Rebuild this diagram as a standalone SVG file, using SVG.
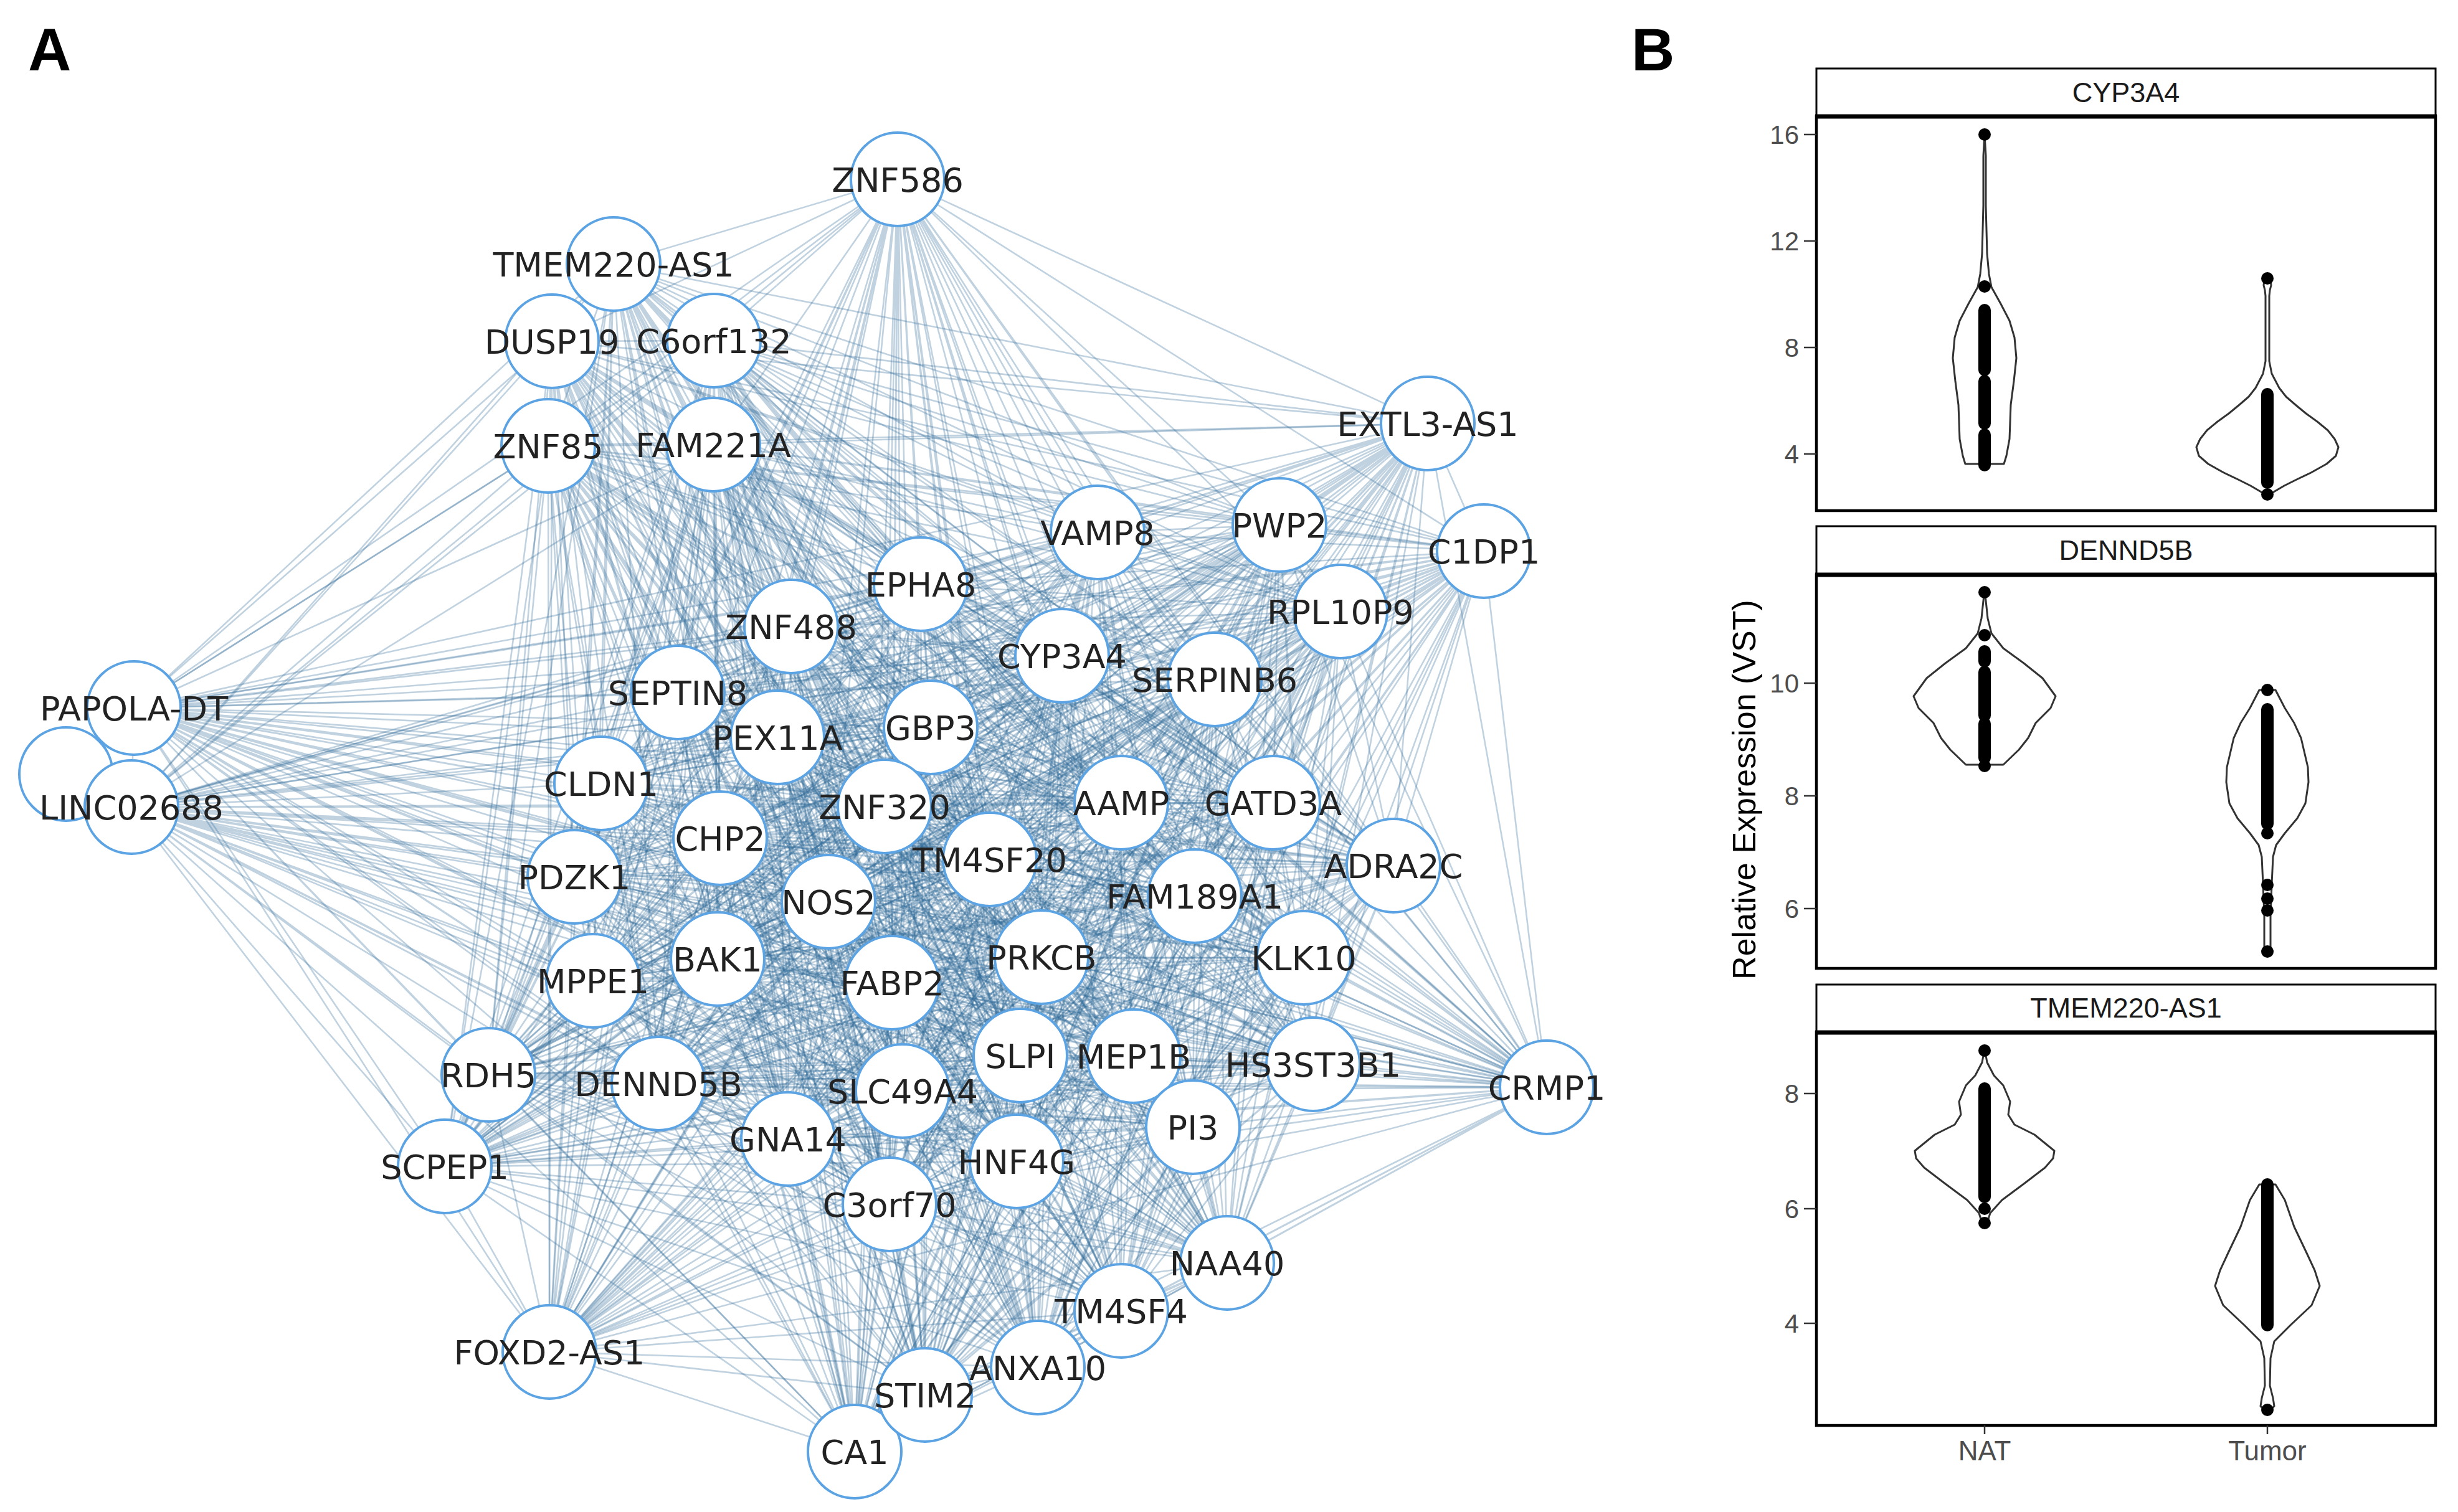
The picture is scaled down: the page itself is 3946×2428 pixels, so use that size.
<svg xmlns="http://www.w3.org/2000/svg" width="3946" height="2428" viewBox="0 0 3946 2428">
<style>
.e{fill:none;stroke:#2f6a98;stroke-opacity:0.3;stroke-width:2.6;stroke-linejoin:round}
.n circle{fill:#fff;stroke:#5ba3e3;stroke-width:4}
.n text{font-family:"DejaVu Sans",sans-serif;font-size:54px;fill:#222;text-anchor:middle}
.pl{font-family:"Liberation Sans",Arial,sans-serif;font-weight:bold;font-size:96px;fill:#000}
.strip{fill:#fff;stroke:#000;stroke-width:3}
.panel{fill:none;stroke:#000;stroke-width:4.5}
.top{stroke:#000;stroke-width:7}
.st{font-family:"Liberation Sans",Arial,sans-serif;font-size:45px;fill:#1a1a1a;text-anchor:middle}
.tk{font-family:"Liberation Sans",Arial,sans-serif;font-size:42px;fill:#4d4d4d;text-anchor:end}
.xl{font-family:"Liberation Sans",Arial,sans-serif;font-size:44px;fill:#4d4d4d;text-anchor:middle}
.yt{font-family:"Liberation Sans",Arial,sans-serif;font-size:52px;fill:#000;text-anchor:middle}
.tm{stroke:#333;stroke-width:2.5}
.vio{fill:none;stroke:#333;stroke-width:3;stroke-linejoin:round}
.dot{fill:#000}
.col{stroke:#000;stroke-width:20;stroke-linecap:round}
</style>
<rect width="3946" height="2428" fill="#fff"/>
<text class="pl" x="45" y="113">A</text>
<text class="pl" x="2619" y="113">B</text>
<g id="connectors">
<path class="e" d="M1441 288L985 424ZL886 548ZL1146 547ZL880 716ZL1145 714ZL2292 680ZL1762 855ZL2054 843ZL2382 885ZL1478 938ZL2152 982ZL1270 1006ZL1705 1053ZL1950 1091ZL215 1137ZL211 1296ZL1088 1112ZL1248 1184ZL1494 1168ZL965 1258ZL1420 1295ZL1800 1289ZL2044 1289ZL1156 1346ZL1589 1380ZL2237 1390ZL922 1408ZL1330 1448ZL1918 1439ZL1152 1540ZL952 1575ZL1432 1578ZL1672 1537ZL2093 1538ZL1638 1695ZL1820 1696ZL784 1726ZL1057 1740ZL2108 1709ZL2483 1746ZL1449 1752ZL1915 1810ZL1265 1829ZL1632 1865ZL714 1873ZL1428 1934ZL1970 2028ZL1800 2105ZL882 2171ZL1666 2196ZL1485 2240ZL1372 2331Z"/>
<path class="e" d="M985 424L886 548ZL1146 547ZL880 716ZL1145 714ZL2292 680ZL1762 855ZL2054 843ZL2382 885ZL1478 938ZL2152 982ZL1270 1006ZL1705 1053ZL1950 1091ZL215 1137ZL211 1296ZL1088 1112ZL1248 1184ZL1494 1168ZL965 1258ZL1420 1295ZL1800 1289ZL2044 1289ZL1156 1346ZL1589 1380ZL2237 1390ZL922 1408ZL1330 1448ZL1918 1439ZL1152 1540ZL952 1575ZL1432 1578ZL1672 1537ZL2093 1538ZL1638 1695ZL1820 1696ZL784 1726ZL1057 1740ZL2108 1709ZL2483 1746ZL1449 1752ZL1915 1810ZL1265 1829ZL1632 1865ZL714 1873ZL1428 1934ZL1970 2028ZL1800 2105ZL882 2171ZL1666 2196ZL1485 2240ZL1372 2331Z"/>
<path class="e" d="M886 548L1146 547ZL880 716ZL1145 714ZL2292 680ZL1762 855ZL2054 843ZL2382 885ZL1478 938ZL2152 982ZL1270 1006ZL1705 1053ZL1950 1091ZL215 1137ZL211 1296ZL1088 1112ZL1248 1184ZL1494 1168ZL965 1258ZL1420 1295ZL1800 1289ZL2044 1289ZL1156 1346ZL1589 1380ZL2237 1390ZL922 1408ZL1330 1448ZL1918 1439ZL1152 1540ZL952 1575ZL1432 1578ZL1672 1537ZL2093 1538ZL1638 1695ZL1820 1696ZL784 1726ZL1057 1740ZL2108 1709ZL2483 1746ZL1449 1752ZL1915 1810ZL1265 1829ZL1632 1865ZL714 1873ZL1428 1934ZL1970 2028ZL1800 2105ZL882 2171ZL1666 2196ZL1485 2240ZL1372 2331Z"/>
<path class="e" d="M1146 547L880 716ZL1145 714ZL2292 680ZL1762 855ZL2054 843ZL2382 885ZL1478 938ZL2152 982ZL1270 1006ZL1705 1053ZL1950 1091ZL215 1137ZL211 1296ZL1088 1112ZL1248 1184ZL1494 1168ZL965 1258ZL1420 1295ZL1800 1289ZL2044 1289ZL1156 1346ZL1589 1380ZL2237 1390ZL922 1408ZL1330 1448ZL1918 1439ZL1152 1540ZL952 1575ZL1432 1578ZL1672 1537ZL2093 1538ZL1638 1695ZL1820 1696ZL784 1726ZL1057 1740ZL2108 1709ZL2483 1746ZL1449 1752ZL1915 1810ZL1265 1829ZL1632 1865ZL714 1873ZL1428 1934ZL1970 2028ZL1800 2105ZL882 2171ZL1666 2196ZL1485 2240ZL1372 2331Z"/>
<path class="e" d="M880 716L1145 714ZL2292 680ZL1762 855ZL2054 843ZL2382 885ZL1478 938ZL2152 982ZL1270 1006ZL1705 1053ZL1950 1091ZL215 1137ZL211 1296ZL1088 1112ZL1248 1184ZL1494 1168ZL965 1258ZL1420 1295ZL1800 1289ZL2044 1289ZL1156 1346ZL1589 1380ZL2237 1390ZL922 1408ZL1330 1448ZL1918 1439ZL1152 1540ZL952 1575ZL1432 1578ZL1672 1537ZL2093 1538ZL1638 1695ZL1820 1696ZL784 1726ZL1057 1740ZL2108 1709ZL2483 1746ZL1449 1752ZL1915 1810ZL1265 1829ZL1632 1865ZL714 1873ZL1428 1934ZL1970 2028ZL1800 2105ZL882 2171ZL1666 2196ZL1485 2240ZL1372 2331Z"/>
<path class="e" d="M1145 714L2292 680ZL1762 855ZL2054 843ZL2382 885ZL1478 938ZL2152 982ZL1270 1006ZL1705 1053ZL1950 1091ZL215 1137ZL211 1296ZL1088 1112ZL1248 1184ZL1494 1168ZL965 1258ZL1420 1295ZL1800 1289ZL2044 1289ZL1156 1346ZL1589 1380ZL2237 1390ZL922 1408ZL1330 1448ZL1918 1439ZL1152 1540ZL952 1575ZL1432 1578ZL1672 1537ZL2093 1538ZL1638 1695ZL1820 1696ZL784 1726ZL1057 1740ZL2108 1709ZL2483 1746ZL1449 1752ZL1915 1810ZL1265 1829ZL1632 1865ZL714 1873ZL1428 1934ZL1970 2028ZL1800 2105ZL882 2171ZL1666 2196ZL1485 2240ZL1372 2331Z"/>
<path class="e" d="M2292 680L1762 855ZL2054 843ZL2382 885ZL1478 938ZL2152 982ZL1270 1006ZL1705 1053ZL1950 1091ZL215 1137ZL211 1296ZL1088 1112ZL1248 1184ZL1494 1168ZL965 1258ZL1420 1295ZL1800 1289ZL2044 1289ZL1156 1346ZL1589 1380ZL2237 1390ZL922 1408ZL1330 1448ZL1918 1439ZL1152 1540ZL952 1575ZL1432 1578ZL1672 1537ZL2093 1538ZL1638 1695ZL1820 1696ZL784 1726ZL1057 1740ZL2108 1709ZL2483 1746ZL1449 1752ZL1915 1810ZL1265 1829ZL1632 1865ZL714 1873ZL1428 1934ZL1970 2028ZL1800 2105ZL882 2171ZL1666 2196ZL1485 2240ZL1372 2331Z"/>
<path class="e" d="M1762 855L2054 843ZL2382 885ZL1478 938ZL2152 982ZL1270 1006ZL1705 1053ZL1950 1091ZL215 1137ZL211 1296ZL1088 1112ZL1248 1184ZL1494 1168ZL965 1258ZL1420 1295ZL1800 1289ZL2044 1289ZL1156 1346ZL1589 1380ZL2237 1390ZL922 1408ZL1330 1448ZL1918 1439ZL1152 1540ZL952 1575ZL1432 1578ZL1672 1537ZL2093 1538ZL1638 1695ZL1820 1696ZL784 1726ZL1057 1740ZL2108 1709ZL2483 1746ZL1449 1752ZL1915 1810ZL1265 1829ZL1632 1865ZL714 1873ZL1428 1934ZL1970 2028ZL1800 2105ZL882 2171ZL1666 2196ZL1485 2240ZL1372 2331Z"/>
<path class="e" d="M2054 843L2382 885ZL1478 938ZL2152 982ZL1270 1006ZL1705 1053ZL1950 1091ZL215 1137ZL211 1296ZL1088 1112ZL1248 1184ZL1494 1168ZL965 1258ZL1420 1295ZL1800 1289ZL2044 1289ZL1156 1346ZL1589 1380ZL2237 1390ZL922 1408ZL1330 1448ZL1918 1439ZL1152 1540ZL952 1575ZL1432 1578ZL1672 1537ZL2093 1538ZL1638 1695ZL1820 1696ZL784 1726ZL1057 1740ZL2108 1709ZL2483 1746ZL1449 1752ZL1915 1810ZL1265 1829ZL1632 1865ZL714 1873ZL1428 1934ZL1970 2028ZL1800 2105ZL882 2171ZL1666 2196ZL1485 2240ZL1372 2331Z"/>
<path class="e" d="M2382 885L1478 938ZL2152 982ZL1270 1006ZL1705 1053ZL1950 1091ZL215 1137ZL211 1296ZL1088 1112ZL1248 1184ZL1494 1168ZL965 1258ZL1420 1295ZL1800 1289ZL2044 1289ZL1156 1346ZL1589 1380ZL2237 1390ZL922 1408ZL1330 1448ZL1918 1439ZL1152 1540ZL952 1575ZL1432 1578ZL1672 1537ZL2093 1538ZL1638 1695ZL1820 1696ZL784 1726ZL1057 1740ZL2108 1709ZL2483 1746ZL1449 1752ZL1915 1810ZL1265 1829ZL1632 1865ZL714 1873ZL1428 1934ZL1970 2028ZL1800 2105ZL882 2171ZL1666 2196ZL1485 2240ZL1372 2331Z"/>
<path class="e" d="M1478 938L2152 982ZL1270 1006ZL1705 1053ZL1950 1091ZL215 1137ZL211 1296ZL1088 1112ZL1248 1184ZL1494 1168ZL965 1258ZL1420 1295ZL1800 1289ZL2044 1289ZL1156 1346ZL1589 1380ZL2237 1390ZL922 1408ZL1330 1448ZL1918 1439ZL1152 1540ZL952 1575ZL1432 1578ZL1672 1537ZL2093 1538ZL1638 1695ZL1820 1696ZL784 1726ZL1057 1740ZL2108 1709ZL2483 1746ZL1449 1752ZL1915 1810ZL1265 1829ZL1632 1865ZL714 1873ZL1428 1934ZL1970 2028ZL1800 2105ZL882 2171ZL1666 2196ZL1485 2240ZL1372 2331Z"/>
<path class="e" d="M2152 982L1270 1006ZL1705 1053ZL1950 1091ZL215 1137ZL211 1296ZL1088 1112ZL1248 1184ZL1494 1168ZL965 1258ZL1420 1295ZL1800 1289ZL2044 1289ZL1156 1346ZL1589 1380ZL2237 1390ZL922 1408ZL1330 1448ZL1918 1439ZL1152 1540ZL952 1575ZL1432 1578ZL1672 1537ZL2093 1538ZL1638 1695ZL1820 1696ZL784 1726ZL1057 1740ZL2108 1709ZL2483 1746ZL1449 1752ZL1915 1810ZL1265 1829ZL1632 1865ZL714 1873ZL1428 1934ZL1970 2028ZL1800 2105ZL882 2171ZL1666 2196ZL1485 2240ZL1372 2331Z"/>
<path class="e" d="M1270 1006L1705 1053ZL1950 1091ZL215 1137ZL211 1296ZL1088 1112ZL1248 1184ZL1494 1168ZL965 1258ZL1420 1295ZL1800 1289ZL2044 1289ZL1156 1346ZL1589 1380ZL2237 1390ZL922 1408ZL1330 1448ZL1918 1439ZL1152 1540ZL952 1575ZL1432 1578ZL1672 1537ZL2093 1538ZL1638 1695ZL1820 1696ZL784 1726ZL1057 1740ZL2108 1709ZL2483 1746ZL1449 1752ZL1915 1810ZL1265 1829ZL1632 1865ZL714 1873ZL1428 1934ZL1970 2028ZL1800 2105ZL882 2171ZL1666 2196ZL1485 2240ZL1372 2331Z"/>
<path class="e" d="M1705 1053L1950 1091ZL215 1137ZL211 1296ZL1088 1112ZL1248 1184ZL1494 1168ZL965 1258ZL1420 1295ZL1800 1289ZL2044 1289ZL1156 1346ZL1589 1380ZL2237 1390ZL922 1408ZL1330 1448ZL1918 1439ZL1152 1540ZL952 1575ZL1432 1578ZL1672 1537ZL2093 1538ZL1638 1695ZL1820 1696ZL784 1726ZL1057 1740ZL2108 1709ZL2483 1746ZL1449 1752ZL1915 1810ZL1265 1829ZL1632 1865ZL714 1873ZL1428 1934ZL1970 2028ZL1800 2105ZL882 2171ZL1666 2196ZL1485 2240ZL1372 2331Z"/>
<path class="e" d="M1950 1091L215 1137ZL211 1296ZL1088 1112ZL1248 1184ZL1494 1168ZL965 1258ZL1420 1295ZL1800 1289ZL2044 1289ZL1156 1346ZL1589 1380ZL2237 1390ZL922 1408ZL1330 1448ZL1918 1439ZL1152 1540ZL952 1575ZL1432 1578ZL1672 1537ZL2093 1538ZL1638 1695ZL1820 1696ZL784 1726ZL1057 1740ZL2108 1709ZL2483 1746ZL1449 1752ZL1915 1810ZL1265 1829ZL1632 1865ZL714 1873ZL1428 1934ZL1970 2028ZL1800 2105ZL882 2171ZL1666 2196ZL1485 2240ZL1372 2331Z"/>
<path class="e" d="M215 1137L211 1296ZL1088 1112ZL1248 1184ZL1494 1168ZL965 1258ZL1420 1295ZL1800 1289ZL2044 1289ZL1156 1346ZL1589 1380ZL2237 1390ZL922 1408ZL1330 1448ZL1918 1439ZL1152 1540ZL952 1575ZL1432 1578ZL1672 1537ZL2093 1538ZL1638 1695ZL1820 1696ZL784 1726ZL1057 1740ZL2108 1709ZL2483 1746ZL1449 1752ZL1915 1810ZL1265 1829ZL1632 1865ZL714 1873ZL1428 1934ZL1970 2028ZL1800 2105ZL882 2171ZL1666 2196ZL1485 2240ZL1372 2331Z"/>
<path class="e" d="M211 1296L1088 1112ZL1248 1184ZL1494 1168ZL965 1258ZL1420 1295ZL1800 1289ZL2044 1289ZL1156 1346ZL1589 1380ZL2237 1390ZL922 1408ZL1330 1448ZL1918 1439ZL1152 1540ZL952 1575ZL1432 1578ZL1672 1537ZL2093 1538ZL1638 1695ZL1820 1696ZL784 1726ZL1057 1740ZL2108 1709ZL2483 1746ZL1449 1752ZL1915 1810ZL1265 1829ZL1632 1865ZL714 1873ZL1428 1934ZL1970 2028ZL1800 2105ZL882 2171ZL1666 2196ZL1485 2240ZL1372 2331Z"/>
<path class="e" d="M1088 1112L1248 1184ZL1494 1168ZL965 1258ZL1420 1295ZL1800 1289ZL2044 1289ZL1156 1346ZL1589 1380ZL2237 1390ZL922 1408ZL1330 1448ZL1918 1439ZL1152 1540ZL952 1575ZL1432 1578ZL1672 1537ZL2093 1538ZL1638 1695ZL1820 1696ZL784 1726ZL1057 1740ZL2108 1709ZL2483 1746ZL1449 1752ZL1915 1810ZL1265 1829ZL1632 1865ZL714 1873ZL1428 1934ZL1970 2028ZL1800 2105ZL882 2171ZL1666 2196ZL1485 2240ZL1372 2331Z"/>
<path class="e" d="M1248 1184L1494 1168ZL965 1258ZL1420 1295ZL1800 1289ZL2044 1289ZL1156 1346ZL1589 1380ZL2237 1390ZL922 1408ZL1330 1448ZL1918 1439ZL1152 1540ZL952 1575ZL1432 1578ZL1672 1537ZL2093 1538ZL1638 1695ZL1820 1696ZL784 1726ZL1057 1740ZL2108 1709ZL2483 1746ZL1449 1752ZL1915 1810ZL1265 1829ZL1632 1865ZL714 1873ZL1428 1934ZL1970 2028ZL1800 2105ZL882 2171ZL1666 2196ZL1485 2240ZL1372 2331Z"/>
<path class="e" d="M1494 1168L965 1258ZL1420 1295ZL1800 1289ZL2044 1289ZL1156 1346ZL1589 1380ZL2237 1390ZL922 1408ZL1330 1448ZL1918 1439ZL1152 1540ZL952 1575ZL1432 1578ZL1672 1537ZL2093 1538ZL1638 1695ZL1820 1696ZL784 1726ZL1057 1740ZL2108 1709ZL2483 1746ZL1449 1752ZL1915 1810ZL1265 1829ZL1632 1865ZL714 1873ZL1428 1934ZL1970 2028ZL1800 2105ZL882 2171ZL1666 2196ZL1485 2240ZL1372 2331Z"/>
<path class="e" d="M965 1258L1420 1295ZL1800 1289ZL2044 1289ZL1156 1346ZL1589 1380ZL2237 1390ZL922 1408ZL1330 1448ZL1918 1439ZL1152 1540ZL952 1575ZL1432 1578ZL1672 1537ZL2093 1538ZL1638 1695ZL1820 1696ZL784 1726ZL1057 1740ZL2108 1709ZL2483 1746ZL1449 1752ZL1915 1810ZL1265 1829ZL1632 1865ZL714 1873ZL1428 1934ZL1970 2028ZL1800 2105ZL882 2171ZL1666 2196ZL1485 2240ZL1372 2331Z"/>
<path class="e" d="M1420 1295L1800 1289ZL2044 1289ZL1156 1346ZL1589 1380ZL2237 1390ZL922 1408ZL1330 1448ZL1918 1439ZL1152 1540ZL952 1575ZL1432 1578ZL1672 1537ZL2093 1538ZL1638 1695ZL1820 1696ZL784 1726ZL1057 1740ZL2108 1709ZL2483 1746ZL1449 1752ZL1915 1810ZL1265 1829ZL1632 1865ZL714 1873ZL1428 1934ZL1970 2028ZL1800 2105ZL882 2171ZL1666 2196ZL1485 2240ZL1372 2331Z"/>
<path class="e" d="M1800 1289L2044 1289ZL1156 1346ZL1589 1380ZL2237 1390ZL922 1408ZL1330 1448ZL1918 1439ZL1152 1540ZL952 1575ZL1432 1578ZL1672 1537ZL2093 1538ZL1638 1695ZL1820 1696ZL784 1726ZL1057 1740ZL2108 1709ZL2483 1746ZL1449 1752ZL1915 1810ZL1265 1829ZL1632 1865ZL714 1873ZL1428 1934ZL1970 2028ZL1800 2105ZL882 2171ZL1666 2196ZL1485 2240ZL1372 2331Z"/>
<path class="e" d="M2044 1289L1156 1346ZL1589 1380ZL2237 1390ZL922 1408ZL1330 1448ZL1918 1439ZL1152 1540ZL952 1575ZL1432 1578ZL1672 1537ZL2093 1538ZL1638 1695ZL1820 1696ZL784 1726ZL1057 1740ZL2108 1709ZL2483 1746ZL1449 1752ZL1915 1810ZL1265 1829ZL1632 1865ZL714 1873ZL1428 1934ZL1970 2028ZL1800 2105ZL882 2171ZL1666 2196ZL1485 2240ZL1372 2331Z"/>
<path class="e" d="M1156 1346L1589 1380ZL2237 1390ZL922 1408ZL1330 1448ZL1918 1439ZL1152 1540ZL952 1575ZL1432 1578ZL1672 1537ZL2093 1538ZL1638 1695ZL1820 1696ZL784 1726ZL1057 1740ZL2108 1709ZL2483 1746ZL1449 1752ZL1915 1810ZL1265 1829ZL1632 1865ZL714 1873ZL1428 1934ZL1970 2028ZL1800 2105ZL882 2171ZL1666 2196ZL1485 2240ZL1372 2331Z"/>
<path class="e" d="M1589 1380L2237 1390ZL922 1408ZL1330 1448ZL1918 1439ZL1152 1540ZL952 1575ZL1432 1578ZL1672 1537ZL2093 1538ZL1638 1695ZL1820 1696ZL784 1726ZL1057 1740ZL2108 1709ZL2483 1746ZL1449 1752ZL1915 1810ZL1265 1829ZL1632 1865ZL714 1873ZL1428 1934ZL1970 2028ZL1800 2105ZL882 2171ZL1666 2196ZL1485 2240ZL1372 2331Z"/>
<path class="e" d="M2237 1390L922 1408ZL1330 1448ZL1918 1439ZL1152 1540ZL952 1575ZL1432 1578ZL1672 1537ZL2093 1538ZL1638 1695ZL1820 1696ZL784 1726ZL1057 1740ZL2108 1709ZL2483 1746ZL1449 1752ZL1915 1810ZL1265 1829ZL1632 1865ZL714 1873ZL1428 1934ZL1970 2028ZL1800 2105ZL882 2171ZL1666 2196ZL1485 2240ZL1372 2331Z"/>
<path class="e" d="M922 1408L1330 1448ZL1918 1439ZL1152 1540ZL952 1575ZL1432 1578ZL1672 1537ZL2093 1538ZL1638 1695ZL1820 1696ZL784 1726ZL1057 1740ZL2108 1709ZL2483 1746ZL1449 1752ZL1915 1810ZL1265 1829ZL1632 1865ZL714 1873ZL1428 1934ZL1970 2028ZL1800 2105ZL882 2171ZL1666 2196ZL1485 2240ZL1372 2331Z"/>
<path class="e" d="M1330 1448L1918 1439ZL1152 1540ZL952 1575ZL1432 1578ZL1672 1537ZL2093 1538ZL1638 1695ZL1820 1696ZL784 1726ZL1057 1740ZL2108 1709ZL2483 1746ZL1449 1752ZL1915 1810ZL1265 1829ZL1632 1865ZL714 1873ZL1428 1934ZL1970 2028ZL1800 2105ZL882 2171ZL1666 2196ZL1485 2240ZL1372 2331Z"/>
<path class="e" d="M1918 1439L1152 1540ZL952 1575ZL1432 1578ZL1672 1537ZL2093 1538ZL1638 1695ZL1820 1696ZL784 1726ZL1057 1740ZL2108 1709ZL2483 1746ZL1449 1752ZL1915 1810ZL1265 1829ZL1632 1865ZL714 1873ZL1428 1934ZL1970 2028ZL1800 2105ZL882 2171ZL1666 2196ZL1485 2240ZL1372 2331Z"/>
<path class="e" d="M1152 1540L952 1575ZL1432 1578ZL1672 1537ZL2093 1538ZL1638 1695ZL1820 1696ZL784 1726ZL1057 1740ZL2108 1709ZL2483 1746ZL1449 1752ZL1915 1810ZL1265 1829ZL1632 1865ZL714 1873ZL1428 1934ZL1970 2028ZL1800 2105ZL882 2171ZL1666 2196ZL1485 2240ZL1372 2331Z"/>
<path class="e" d="M952 1575L1432 1578ZL1672 1537ZL2093 1538ZL1638 1695ZL1820 1696ZL784 1726ZL1057 1740ZL2108 1709ZL2483 1746ZL1449 1752ZL1915 1810ZL1265 1829ZL1632 1865ZL714 1873ZL1428 1934ZL1970 2028ZL1800 2105ZL882 2171ZL1666 2196ZL1485 2240ZL1372 2331Z"/>
<path class="e" d="M1432 1578L1672 1537ZL2093 1538ZL1638 1695ZL1820 1696ZL784 1726ZL1057 1740ZL2108 1709ZL2483 1746ZL1449 1752ZL1915 1810ZL1265 1829ZL1632 1865ZL714 1873ZL1428 1934ZL1970 2028ZL1800 2105ZL882 2171ZL1666 2196ZL1485 2240ZL1372 2331Z"/>
<path class="e" d="M1672 1537L2093 1538ZL1638 1695ZL1820 1696ZL784 1726ZL1057 1740ZL2108 1709ZL2483 1746ZL1449 1752ZL1915 1810ZL1265 1829ZL1632 1865ZL714 1873ZL1428 1934ZL1970 2028ZL1800 2105ZL882 2171ZL1666 2196ZL1485 2240ZL1372 2331Z"/>
<path class="e" d="M2093 1538L1638 1695ZL1820 1696ZL784 1726ZL1057 1740ZL2108 1709ZL2483 1746ZL1449 1752ZL1915 1810ZL1265 1829ZL1632 1865ZL714 1873ZL1428 1934ZL1970 2028ZL1800 2105ZL882 2171ZL1666 2196ZL1485 2240ZL1372 2331Z"/>
<path class="e" d="M1638 1695L1820 1696ZL784 1726ZL1057 1740ZL2108 1709ZL2483 1746ZL1449 1752ZL1915 1810ZL1265 1829ZL1632 1865ZL714 1873ZL1428 1934ZL1970 2028ZL1800 2105ZL882 2171ZL1666 2196ZL1485 2240ZL1372 2331Z"/>
<path class="e" d="M1820 1696L784 1726ZL1057 1740ZL2108 1709ZL2483 1746ZL1449 1752ZL1915 1810ZL1265 1829ZL1632 1865ZL714 1873ZL1428 1934ZL1970 2028ZL1800 2105ZL882 2171ZL1666 2196ZL1485 2240ZL1372 2331Z"/>
<path class="e" d="M784 1726L1057 1740ZL2108 1709ZL2483 1746ZL1449 1752ZL1915 1810ZL1265 1829ZL1632 1865ZL714 1873ZL1428 1934ZL1970 2028ZL1800 2105ZL882 2171ZL1666 2196ZL1485 2240ZL1372 2331Z"/>
<path class="e" d="M1057 1740L2108 1709ZL2483 1746ZL1449 1752ZL1915 1810ZL1265 1829ZL1632 1865ZL714 1873ZL1428 1934ZL1970 2028ZL1800 2105ZL882 2171ZL1666 2196ZL1485 2240ZL1372 2331Z"/>
<path class="e" d="M2108 1709L2483 1746ZL1449 1752ZL1915 1810ZL1265 1829ZL1632 1865ZL714 1873ZL1428 1934ZL1970 2028ZL1800 2105ZL882 2171ZL1666 2196ZL1485 2240ZL1372 2331Z"/>
<path class="e" d="M2483 1746L1449 1752ZL1915 1810ZL1265 1829ZL1632 1865ZL714 1873ZL1428 1934ZL1970 2028ZL1800 2105ZL882 2171ZL1666 2196ZL1485 2240ZL1372 2331Z"/>
<path class="e" d="M1449 1752L1915 1810ZL1265 1829ZL1632 1865ZL714 1873ZL1428 1934ZL1970 2028ZL1800 2105ZL882 2171ZL1666 2196ZL1485 2240ZL1372 2331Z"/>
<path class="e" d="M1915 1810L1265 1829ZL1632 1865ZL714 1873ZL1428 1934ZL1970 2028ZL1800 2105ZL882 2171ZL1666 2196ZL1485 2240ZL1372 2331Z"/>
<path class="e" d="M1265 1829L1632 1865ZL714 1873ZL1428 1934ZL1970 2028ZL1800 2105ZL882 2171ZL1666 2196ZL1485 2240ZL1372 2331Z"/>
<path class="e" d="M1632 1865L714 1873ZL1428 1934ZL1970 2028ZL1800 2105ZL882 2171ZL1666 2196ZL1485 2240ZL1372 2331Z"/>
<path class="e" d="M714 1873L1428 1934ZL1970 2028ZL1800 2105ZL882 2171ZL1666 2196ZL1485 2240ZL1372 2331Z"/>
<path class="e" d="M1428 1934L1970 2028ZL1800 2105ZL882 2171ZL1666 2196ZL1485 2240ZL1372 2331Z"/>
<path class="e" d="M1970 2028L1800 2105ZL882 2171ZL1666 2196ZL1485 2240ZL1372 2331Z"/>
<path class="e" d="M1800 2105L882 2171ZL1666 2196ZL1485 2240ZL1372 2331Z"/>
<path class="e" d="M882 2171L1666 2196ZL1485 2240ZL1372 2331Z"/>
<path class="e" d="M1666 2196L1485 2240ZL1372 2331Z"/>
<path class="e" d="M1485 2240L1372 2331Z"/>
</g>
<g id="nodes">
<g class="n" id="node-unlabeled"><circle cx="106" cy="1243" r="75"/></g>
<g class="n" id="node-ZNF586"><circle cx="1441" cy="288" r="75"/><text x="1441" y="308">ZNF586</text></g>
<g class="n" id="node-TMEM220-AS1"><circle cx="985" cy="424" r="75"/><text x="985" y="444">TMEM220-AS1</text></g>
<g class="n" id="node-DUSP19"><circle cx="886" cy="548" r="75"/><text x="886" y="568">DUSP19</text></g>
<g class="n" id="node-C6orf132"><circle cx="1146" cy="547" r="75"/><text x="1146" y="567">C6orf132</text></g>
<g class="n" id="node-ZNF85"><circle cx="880" cy="716" r="75"/><text x="880" y="736">ZNF85</text></g>
<g class="n" id="node-FAM221A"><circle cx="1145" cy="714" r="75"/><text x="1145" y="734">FAM221A</text></g>
<g class="n" id="node-EXTL3-AS1"><circle cx="2292" cy="680" r="75"/><text x="2292" y="700">EXTL3-AS1</text></g>
<g class="n" id="node-VAMP8"><circle cx="1762" cy="855" r="75"/><text x="1762" y="875">VAMP8</text></g>
<g class="n" id="node-PWP2"><circle cx="2054" cy="843" r="75"/><text x="2054" y="863">PWP2</text></g>
<g class="n" id="node-C1DP1"><circle cx="2382" cy="885" r="75"/><text x="2382" y="905">C1DP1</text></g>
<g class="n" id="node-EPHA8"><circle cx="1478" cy="938" r="75"/><text x="1478" y="958">EPHA8</text></g>
<g class="n" id="node-RPL10P9"><circle cx="2152" cy="982" r="75"/><text x="2152" y="1002">RPL10P9</text></g>
<g class="n" id="node-ZNF488"><circle cx="1270" cy="1006" r="75"/><text x="1270" y="1026">ZNF488</text></g>
<g class="n" id="node-CYP3A4"><circle cx="1705" cy="1053" r="75"/><text x="1705" y="1073">CYP3A4</text></g>
<g class="n" id="node-SERPINB6"><circle cx="1950" cy="1091" r="75"/><text x="1950" y="1111">SERPINB6</text></g>
<g class="n" id="node-PAPOLA-DT"><circle cx="215" cy="1137" r="75"/><text x="215" y="1157">PAPOLA-DT</text></g>
<g class="n" id="node-LINC02688"><circle cx="211" cy="1296" r="75"/><text x="211" y="1316">LINC02688</text></g>
<g class="n" id="node-PEX11A"><circle cx="1248" cy="1184" r="75"/><text x="1248" y="1204">PEX11A</text></g>
<g class="n" id="node-SEPTIN8"><circle cx="1088" cy="1112" r="75"/><text x="1088" y="1132">SEPTIN8</text></g>
<g class="n" id="node-GBP3"><circle cx="1494" cy="1168" r="75"/><text x="1494" y="1188">GBP3</text></g>
<g class="n" id="node-CLDN1"><circle cx="965" cy="1258" r="75"/><text x="965" y="1278">CLDN1</text></g>
<g class="n" id="node-ZNF320"><circle cx="1420" cy="1295" r="75"/><text x="1420" y="1315">ZNF320</text></g>
<g class="n" id="node-AAMP"><circle cx="1800" cy="1289" r="75"/><text x="1800" y="1309">AAMP</text></g>
<g class="n" id="node-GATD3A"><circle cx="2044" cy="1289" r="75"/><text x="2044" y="1309">GATD3A</text></g>
<g class="n" id="node-CHP2"><circle cx="1156" cy="1346" r="75"/><text x="1156" y="1366">CHP2</text></g>
<g class="n" id="node-TM4SF20"><circle cx="1589" cy="1380" r="75"/><text x="1589" y="1400">TM4SF20</text></g>
<g class="n" id="node-ADRA2C"><circle cx="2237" cy="1390" r="75"/><text x="2237" y="1410">ADRA2C</text></g>
<g class="n" id="node-PDZK1"><circle cx="922" cy="1408" r="75"/><text x="922" y="1428">PDZK1</text></g>
<g class="n" id="node-NOS2"><circle cx="1330" cy="1448" r="75"/><text x="1330" y="1468">NOS2</text></g>
<g class="n" id="node-FAM189A1"><circle cx="1918" cy="1439" r="75"/><text x="1918" y="1459">FAM189A1</text></g>
<g class="n" id="node-BAK1"><circle cx="1152" cy="1540" r="75"/><text x="1152" y="1560">BAK1</text></g>
<g class="n" id="node-MPPE1"><circle cx="952" cy="1575" r="75"/><text x="952" y="1595">MPPE1</text></g>
<g class="n" id="node-FABP2"><circle cx="1432" cy="1578" r="75"/><text x="1432" y="1598">FABP2</text></g>
<g class="n" id="node-PRKCB"><circle cx="1672" cy="1537" r="75"/><text x="1672" y="1557">PRKCB</text></g>
<g class="n" id="node-KLK10"><circle cx="2093" cy="1538" r="75"/><text x="2093" y="1558">KLK10</text></g>
<g class="n" id="node-SLPI"><circle cx="1638" cy="1695" r="75"/><text x="1638" y="1715">SLPI</text></g>
<g class="n" id="node-MEP1B"><circle cx="1820" cy="1696" r="75"/><text x="1820" y="1716">MEP1B</text></g>
<g class="n" id="node-RDH5"><circle cx="784" cy="1726" r="75"/><text x="784" y="1746">RDH5</text></g>
<g class="n" id="node-DENND5B"><circle cx="1057" cy="1740" r="75"/><text x="1057" y="1760">DENND5B</text></g>
<g class="n" id="node-HS3ST3B1"><circle cx="2108" cy="1709" r="75"/><text x="2108" y="1729">HS3ST3B1</text></g>
<g class="n" id="node-CRMP1"><circle cx="2483" cy="1746" r="75"/><text x="2483" y="1766">CRMP1</text></g>
<g class="n" id="node-GNA14"><circle cx="1265" cy="1829" r="75"/><text x="1265" y="1849">GNA14</text></g>
<g class="n" id="node-SLC49A4"><circle cx="1449" cy="1752" r="75"/><text x="1449" y="1772">SLC49A4</text></g>
<g class="n" id="node-PI3"><circle cx="1915" cy="1810" r="75"/><text x="1915" y="1830">PI3</text></g>
<g class="n" id="node-HNF4G"><circle cx="1632" cy="1865" r="75"/><text x="1632" y="1885">HNF4G</text></g>
<g class="n" id="node-SCPEP1"><circle cx="714" cy="1873" r="75"/><text x="714" y="1893">SCPEP1</text></g>
<g class="n" id="node-C3orf70"><circle cx="1428" cy="1934" r="75"/><text x="1428" y="1954">C3orf70</text></g>
<g class="n" id="node-NAA40"><circle cx="1970" cy="2028" r="75"/><text x="1970" y="2048">NAA40</text></g>
<g class="n" id="node-TM4SF4"><circle cx="1800" cy="2105" r="75"/><text x="1800" y="2125">TM4SF4</text></g>
<g class="n" id="node-FOXD2-AS1"><circle cx="882" cy="2171" r="75"/><text x="882" y="2191">FOXD2-AS1</text></g>
<g class="n" id="node-CA1"><circle cx="1372" cy="2331" r="75"/><text x="1372" y="2351">CA1</text></g>
<g class="n" id="node-STIM2"><circle cx="1485" cy="2240" r="75"/><text x="1485" y="2260">STIM2</text></g>
<g class="n" id="node-ANXA10"><circle cx="1666" cy="2196" r="75"/><text x="1666" y="2216">ANXA10</text></g>
</g>
<g id="panel-B">
<text class="yt" transform="translate(2818 1268) rotate(-90)">Relative Expression (VST)</text>
<g id="facet-CYP3A4">
<rect class="strip" x="2916" y="110" width="994" height="77"/>
<text class="st" x="3413" y="164">CYP3A4</text>
<rect class="panel" x="2916" y="187" width="994" height="633"/>
<line class="top" x1="2914" y1="187" x2="3912" y2="187"/>
<line class="tm" x1="2896" y1="216" x2="2916" y2="216"/><line class="tm" x1="2896" y1="387" x2="2916" y2="387"/><line class="tm" x1="2896" y1="558" x2="2916" y2="558"/><line class="tm" x1="2896" y1="729" x2="2916" y2="729"/>
<text class="tk" x="2888" y="231">16</text><text class="tk" x="2888" y="402">12</text><text class="tk" x="2888" y="573">8</text><text class="tk" x="2888" y="744">4</text>
<path class="vio" d="M3186 216L3188 250L3188 330L3190 407L3193 440L3197 461L3212 488L3226 515L3234 542L3237 575L3233 612L3228 650L3226 705L3221 732L3217 745L3155 745L3151 732L3146 705L3144 650L3139 612L3135 575L3138 542L3146 515L3160 488L3175 461L3179 440L3182 407L3184 330L3184 250Z"/>
<path class="vio" d="M3640 443L3645 450L3646 458L3644 466L3643 475L3643 580L3647 600L3659 623L3670 637L3685 650L3702 664L3720 677L3737 691L3748 705L3754 718L3750 732L3735 745L3710 759L3687 770L3667 780L3650 790L3640 797L3630 790L3613 780L3593 770L3570 759L3545 745L3530 732L3526 718L3532 705L3543 691L3560 677L3578 664L3595 650L3610 637L3621 623L3633 600L3637 580L3637 475L3636 466L3634 458L3635 450Z"/>
<circle class="dot" cx="3186" cy="216" r="10"/><circle class="dot" cx="3186" cy="460" r="10"/>
<line class="col" x1="3186" y1="498" x2="3186" y2="594"/><line class="col" x1="3186" y1="612" x2="3186" y2="680"/><line class="col" x1="3186" y1="698" x2="3186" y2="747"/>
<circle class="dot" cx="3640" cy="447" r="10"/>
<line class="col" x1="3640" y1="633" x2="3640" y2="775"/>
<circle class="dot" cx="3640" cy="794" r="10"/>
</g>
<g id="facet-DENND5B">
<rect class="strip" x="2916" y="845" width="994" height="78"/>
<text class="st" x="3413" y="899">DENND5B</text>
<rect class="panel" x="2916" y="923" width="994" height="632"/>
<line class="top" x1="2914" y1="923" x2="3912" y2="923"/>
<line class="tm" x1="2896" y1="1097" x2="2916" y2="1097"/><line class="tm" x1="2896" y1="1278" x2="2916" y2="1278"/><line class="tm" x1="2896" y1="1459" x2="2916" y2="1459"/>
<text class="tk" x="2888" y="1112">10</text><text class="tk" x="2888" y="1293">8</text><text class="tk" x="2888" y="1474">6</text>
<path class="vio" d="M3186 946L3191 993L3197 1017L3216 1041L3249 1065L3279 1089L3300 1118L3292 1137L3268 1161L3256 1185L3241 1204L3216 1228L3156 1228L3131 1204L3116 1185L3104 1161L3080 1137L3072 1118L3093 1089L3123 1065L3156 1041L3175 1017L3181 993Z"/>
<path class="vio" d="M3627 1108L3653 1108L3668 1137L3683 1161L3694 1185L3705 1232L3706 1256L3701 1290L3688 1314L3668 1338L3654 1357L3649 1376L3647 1420L3645 1471L3645 1522L3635 1522L3635 1471L3633 1420L3631 1376L3626 1357L3612 1338L3592 1314L3579 1290L3574 1256L3575 1232L3586 1185L3597 1161L3612 1137Z"/>
<circle class="dot" cx="3186" cy="951" r="10"/><circle class="dot" cx="3186" cy="1020" r="10"/>
<line class="col" x1="3186" y1="1046" x2="3186" y2="1062"/><line class="col" x1="3186" y1="1079" x2="3186" y2="1149"/><line class="col" x1="3186" y1="1162" x2="3186" y2="1217"/>
<circle class="dot" cx="3186" cy="1230" r="10"/>
<circle class="dot" cx="3640" cy="1108" r="10"/>
<line class="col" x1="3640" y1="1139" x2="3640" y2="1323"/>
<circle class="dot" cx="3640" cy="1338" r="10"/><circle class="dot" cx="3640" cy="1421" r="10"/><circle class="dot" cx="3640" cy="1443" r="10"/><circle class="dot" cx="3640" cy="1462" r="10"/><circle class="dot" cx="3640" cy="1528" r="10"/>
</g>
<g id="facet-TMEM220-AS1">
<rect class="strip" x="2916" y="1581" width="994" height="77"/>
<text class="st" x="3413" y="1634">TMEM220-AS1</text>
<rect class="panel" x="2916" y="1658" width="994" height="631"/>
<line class="top" x1="2914" y1="1658" x2="3912" y2="1658"/>
<line class="tm" x1="2896" y1="1756" x2="2916" y2="1756"/><line class="tm" x1="2896" y1="1941" x2="2916" y2="1941"/><line class="tm" x1="2896" y1="2125" x2="2916" y2="2125"/>
<text class="tk" x="2888" y="1771">8</text><text class="tk" x="2888" y="1956">6</text><text class="tk" x="2888" y="2140">4</text>
<path class="vio" d="M3186 1684L3190 1706L3201 1727L3216 1743L3227 1769L3224 1790L3234 1806L3266 1822L3298 1848L3296 1860L3283 1875L3249 1901L3214 1927L3195 1948L3190 1964L3186 1970L3182 1964L3177 1948L3158 1927L3123 1901L3089 1875L3076 1860L3074 1848L3106 1822L3138 1806L3148 1790L3145 1769L3156 1743L3171 1727L3182 1706Z"/>
<path class="vio" d="M3627 1902L3653 1902L3668 1927L3683 1970L3703 2012L3716 2040L3724 2065L3711 2096L3677 2128L3651 2154L3645 2181L3644 2225L3649 2245L3651 2258L3640 2270L3629 2258L3631 2245L3636 2225L3635 2181L3629 2154L3603 2128L3569 2096L3556 2065L3564 2040L3577 2012L3597 1970L3612 1927Z"/>
<circle class="dot" cx="3186" cy="1687" r="10"/>
<line class="col" x1="3186" y1="1748" x2="3186" y2="1922"/>
<circle class="dot" cx="3186" cy="1941" r="10"/><circle class="dot" cx="3186" cy="1964" r="10"/>
<line class="col" x1="3640" y1="1902" x2="3640" y2="2128"/>
<circle class="dot" cx="3640" cy="2264" r="10"/>
<line class="tm" x1="3186" y1="2289" x2="3186" y2="2303"/><line class="tm" x1="3640" y1="2289" x2="3640" y2="2303"/>
<text class="xl" x="3186" y="2345">NAT</text><text class="xl" x="3640" y="2345">Tumor</text>
</g>
</g>
</svg>
